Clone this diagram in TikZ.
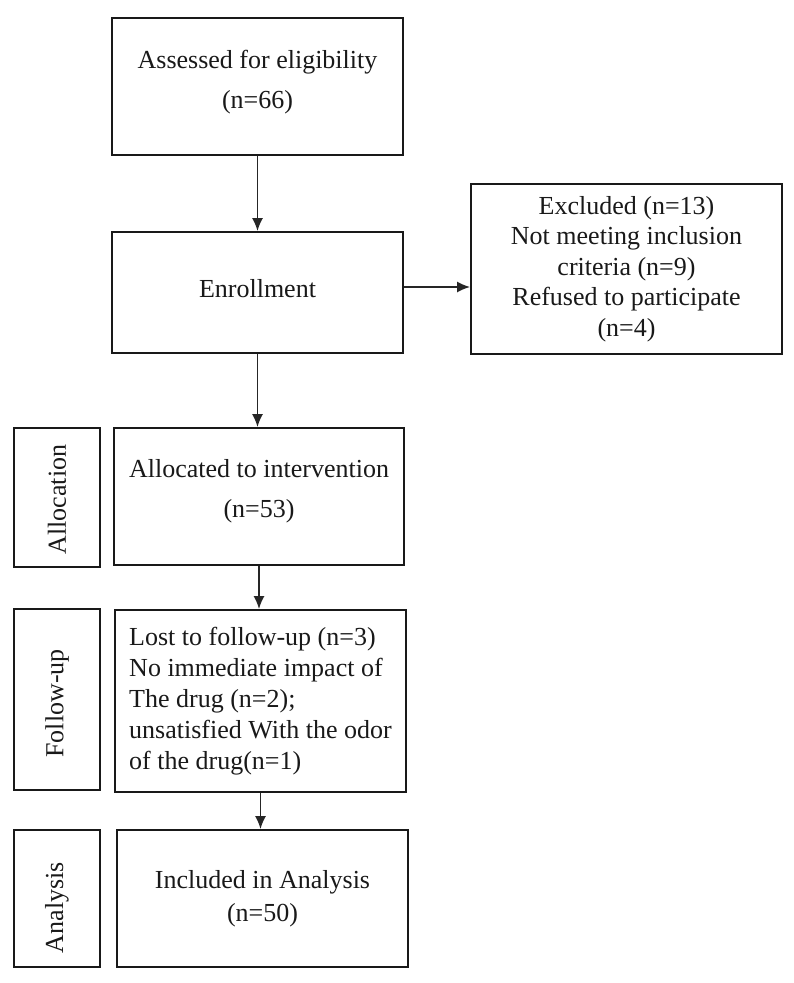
\documentclass[tikz,border=0pt]{standalone}
\usepackage{fontspec}
\setmainfont{Liberation Serif}
\usetikzlibrary{arrows.meta}
\begin{document}
\begin{tikzpicture}[x=1pt,y=-1pt,
  box/.style={draw=black!90, line width=1.8pt, inner sep=0pt},
  txt/.style={inner sep=0pt, align=center, font=\fontsize{26}{40}\selectfont, text=black!90},
  sidetxt/.style={txt, rotate=90},
  conn/.style={draw=black!85, line width=1.7pt, -{Latex[length=13pt,width=11pt]}}]
\useasboundingbox (0,0) rectangle (794,983);
\fill[white] (0,0) rectangle (794,983);
% boxes
\node[box, minimum width=291pt, minimum height=137pt] (assess) at (257.5,86.5) {};
\node[box, minimum width=291pt, minimum height=121pt] (enroll) at (257.5,292.5) {};
\node[box, minimum width=311pt, minimum height=170pt] (excl) at (626.5,269) {};
\node[box, minimum width=290pt, minimum height=137pt] (alloc) at (259,496.5) {};
\node[box, minimum width=291pt, minimum height=182pt] (follow) at (260.5,701) {};
\node[box, minimum width=291pt, minimum height=137pt] (incl) at (262.5,898.5) {};
\node[box, minimum width=86pt, minimum height=139pt] (allocside) at (57,497.5) {};
\node[box, minimum width=86pt, minimum height=181pt] (followside) at (57,699.5) {};
\node[box, minimum width=86pt, minimum height=137pt] (anaside) at (57,898.5) {};
% texts
\node[txt] (assesst) at ([yshift=4pt]assess.center) {Assessed for eligibility\\(n=66)};
\node[txt] (enrollt) at ([yshift=4pt]enroll.center) {Enrollment};
\node[txt, font=\fontsize{26}{30.5}\selectfont] (exclt) at (excl.center)
  {Excluded (n=13)\\Not meeting inclusion\\criteria (n=9)\\Refused to participate\\(n=4)};
\node[txt] (alloct) at ([yshift=5pt]alloc.center) {Allocated to intervention\\(n=53)};
\node[txt, align=left, font=\fontsize{26}{31}\selectfont] (followt) at (follow.center)
  {Lost to follow-up (n=3)\\No immediate impact of\\The drug (n=2);\\unsatisfied With the odor\\of the drug(n=1)};
\node[txt, font=\fontsize{26}{33}\selectfont] (inclt) at (incl.center) {Included in Analysis\\(n=50)};
\node[sidetxt] (allocsidet) at ([yshift=-2pt]allocside.center) {Allocation};
\node[sidetxt] (followsidet) at ([yshift=-4pt]followside.center) {Follow-up};
\node[sidetxt] (anasidet) at ([yshift=-9pt]anaside.center) {Analysis};
% connectors
\draw[conn] (assess.south) -- (enroll.north);
\draw[conn] ([yshift=5.5pt]enroll.east) -- ([yshift=5.5pt]enroll.east -| excl.west);
\draw[conn] (enroll.south) -- (enroll.south |- alloc.north);
\draw[conn] (alloc.south) -- (alloc.south |- follow.north);
\draw[conn] (follow.south) -- (follow.south |- incl.north);
\end{tikzpicture}
\end{document}
